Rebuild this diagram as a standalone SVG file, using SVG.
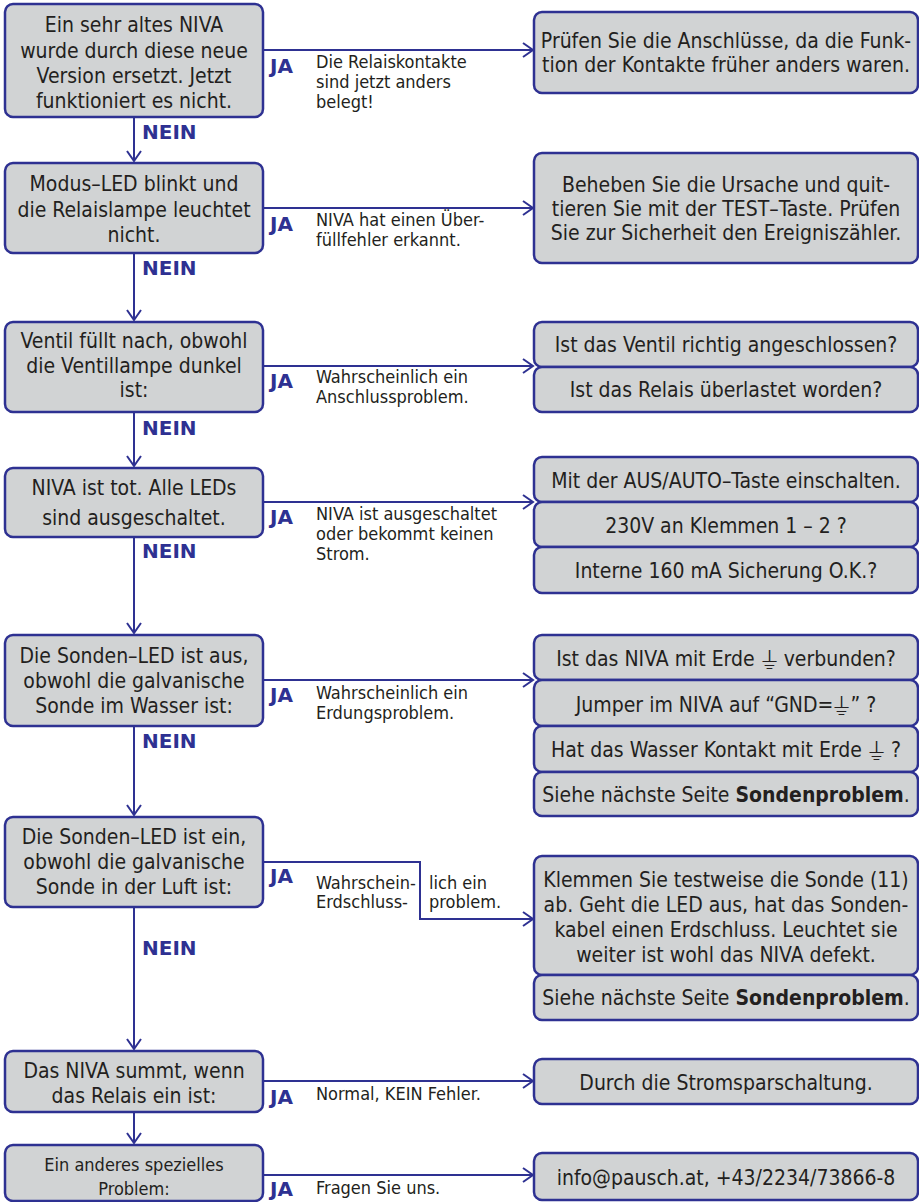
<svg xmlns="http://www.w3.org/2000/svg" width="919" height="1202" viewBox="0 0 919 1202">
<defs>
<style>
.box{fill:#d1d3d4;stroke:#2e3192;stroke-width:2.5}
.t{font-family:"DejaVu Sans Condensed","DejaVu Sans",sans-serif;font-size:21px;fill:#231f20;text-anchor:middle}
.s18{font-size:18px}
.lab{font-family:"DejaVu Sans Condensed","DejaVu Sans",sans-serif;font-size:18px;fill:#231f20}
.ja{font-family:"DejaVu Sans",sans-serif;font-weight:bold;font-size:20px;fill:#2e3192}
.c{stroke:#2e3192;stroke-width:2;fill:none}
.gnd{font-size:24px;baseline-shift:-3px}
</style>
<marker id="ah" markerWidth="13" markerHeight="17" refX="11" refY="8" orient="auto" markerUnits="userSpaceOnUse">
<path d="M1,1 L11,8 L1,15" fill="none" stroke="#2e3192" stroke-width="2"/>
</marker>
</defs>

<g id="connectors">
<path class="c" d="M263,50 H533" marker-end="url(#ah)"/>
<path class="c" d="M134,117 V161" marker-end="url(#ah)"/>
<path class="c" d="M263,208 H533" marker-end="url(#ah)"/>
<path class="c" d="M134,253 V320" marker-end="url(#ah)"/>
<path class="c" d="M263,366 H533" marker-end="url(#ah)"/>
<path class="c" d="M134,412 V466" marker-end="url(#ah)"/>
<path class="c" d="M263,502 H533" marker-end="url(#ah)"/>
<path class="c" d="M134,537 V633" marker-end="url(#ah)"/>
<path class="c" d="M263,680 H533" marker-end="url(#ah)"/>
<path class="c" d="M134,726 V815" marker-end="url(#ah)"/>
<path class="c" d="M263,862 H420 V919 H533" marker-end="url(#ah)"/>
<path class="c" d="M134,907 V1049" marker-end="url(#ah)"/>
<path class="c" d="M263,1081 H533" marker-end="url(#ah)"/>
<path class="c" d="M134,1112 V1143" marker-end="url(#ah)"/>
<path class="c" d="M263,1175 H533" marker-end="url(#ah)"/>
</g>

<g id="edge-labels">
<text class="ja" x="270" y="73">JA</text>
<text class="lab" x="316" y="68">Die Relaiskontakte</text>
<text class="lab" x="316" y="88">sind jetzt anders</text>
<text class="lab" x="316" y="108">belegt!</text>
<text class="ja" x="142" y="139">NEIN</text>

<text class="ja" x="270" y="231">JA</text>
<text class="lab" x="316" y="226">NIVA hat einen Über-</text>
<text class="lab" x="316" y="246">füllfehler erkannt.</text>
<text class="ja" x="142" y="275">NEIN</text>

<text class="ja" x="270" y="388">JA</text>
<text class="lab" x="316" y="383">Wahrscheinlich ein</text>
<text class="lab" x="316" y="403">Anschlussproblem.</text>
<text class="ja" x="142" y="435">NEIN</text>

<text class="ja" x="270" y="524">JA</text>
<text class="lab" x="316" y="520">NIVA ist ausgeschaltet</text>
<text class="lab" x="316" y="540">oder bekommt keinen</text>
<text class="lab" x="316" y="560">Strom.</text>
<text class="ja" x="142" y="558">NEIN</text>

<text class="ja" x="270" y="702">JA</text>
<text class="lab" x="316" y="699">Wahrscheinlich ein</text>
<text class="lab" x="316" y="719">Erdungsproblem.</text>
<text class="ja" x="142" y="748">NEIN</text>

<text class="ja" x="270" y="883">JA</text>
<text class="lab" x="316" y="889">Wahrschein-</text>
<text class="lab" x="316" y="908">Erdschluss-</text>
<text class="lab" x="429" y="889">lich ein</text>
<text class="lab" x="429" y="908">problem.</text>
<text class="ja" x="142" y="955">NEIN</text>

<text class="ja" x="270" y="1104">JA</text>
<text class="lab" x="316" y="1100">Normal, KEIN Fehler.</text>

<text class="ja" x="270" y="1196">JA</text>
<text class="lab" x="316" y="1194">Fragen Sie uns.</text>
</g>

<g id="q1">
<rect class="box" x="5" y="4" width="258" height="113" rx="8"/>
<text class="t" x="134" y="32">Ein sehr altes NIVA</text>
<text class="t" x="134" y="57.5">wurde durch diese neue</text>
<text class="t" x="134" y="83">Version ersetzt. Jetzt</text>
<text class="t" x="134" y="108">funktioniert es nicht.</text>
</g>
<g id="a1">
<rect class="box" x="534" y="12" width="384" height="81" rx="8"/>
<text class="t" x="726" y="48">Prüfen Sie die Anschlüsse, da die Funk-</text>
<text class="t" x="726" y="72">tion der Kontakte früher anders waren.</text>
</g>

<g id="q2">
<rect class="box" x="5" y="163" width="258" height="90" rx="8"/>
<text class="t" x="134" y="191">Modus–LED blinkt und</text>
<text class="t" x="134" y="216.5">die Relaislampe leuchtet</text>
<text class="t" x="134" y="242">nicht.</text>
</g>
<g id="a2">
<rect class="box" x="534" y="153" width="384" height="110" rx="8"/>
<text class="t" x="726" y="192">Beheben Sie die Ursache und quit-</text>
<text class="t" x="726" y="216">tieren Sie mit der TEST–Taste. Prüfen</text>
<text class="t" x="726" y="240">Sie zur Sicherheit den Ereigniszähler.</text>
</g>

<g id="q3">
<rect class="box" x="5" y="322" width="258" height="90" rx="8"/>
<text class="t" x="134" y="348">Ventil füllt nach, obwohl</text>
<text class="t" x="134" y="372.5">die Ventillampe dunkel</text>
<text class="t" x="134" y="397">ist:</text>
</g>
<g id="a3a">
<rect class="box" x="534" y="322" width="384" height="45" rx="8"/>
<text class="t" x="726" y="352">Ist das Ventil richtig angeschlossen?</text>
</g>
<g id="a3b">
<rect class="box" x="534" y="367" width="384" height="45" rx="8"/>
<text class="t" x="726" y="397">Ist das Relais überlastet worden?</text>
</g>

<g id="q4">
<rect class="box" x="5" y="468" width="258" height="69" rx="8"/>
<text class="t" x="134" y="495">NIVA ist tot. Alle LEDs</text>
<text class="t" x="134" y="525">sind ausgeschaltet.</text>
</g>
<g id="a4a">
<rect class="box" x="534" y="457" width="384" height="45" rx="8"/>
<text class="t" x="726" y="488">Mit der AUS/AUTO–Taste einschalten.</text>
</g>
<g id="a4b">
<rect class="box" x="534" y="502" width="384" height="45" rx="8"/>
<text class="t" x="726" y="533">230V an Klemmen 1 – 2 ?</text>
</g>
<g id="a4c">
<rect class="box" x="534" y="547" width="384" height="46" rx="8"/>
<text class="t" x="726" y="578">Interne 160 mA Sicherung O.K.?</text>
</g>

<g id="q5">
<rect class="box" x="5" y="635" width="258" height="91" rx="8"/>
<text class="t" x="134" y="663">Die Sonden–LED ist aus,</text>
<text class="t" x="134" y="687.5">obwohl die galvanische</text>
<text class="t" x="134" y="713">Sonde im Wasser ist:</text>
</g>
<g id="a5a">
<rect class="box" x="534" y="635" width="384" height="45" rx="8"/>
<text class="t" x="726" y="666">Ist das NIVA mit Erde <tspan class="gnd">⏚</tspan> verbunden?</text>
</g>
<g id="a5b">
<rect class="box" x="534" y="680" width="384" height="46" rx="8"/>
<text class="t" x="726" y="712">Jumper im NIVA auf “GND=<tspan class="gnd">⏚</tspan>” ?</text>
</g>
<g id="a5c">
<rect class="box" x="534" y="726" width="384" height="46" rx="8"/>
<text class="t" x="726" y="757">Hat das Wasser Kontakt mit Erde <tspan class="gnd">⏚</tspan> ?</text>
</g>
<g id="a5d">
<rect class="box" x="534" y="772" width="384" height="44" rx="8"/>
<text class="t" x="726" y="802">Siehe nächste Seite <tspan font-weight="bold">Sondenproblem</tspan>.</text>
</g>

<g id="q6">
<rect class="box" x="5" y="817" width="258" height="90" rx="8"/>
<text class="t" x="134" y="844">Die Sonden–LED ist ein,</text>
<text class="t" x="134" y="869">obwohl die galvanische</text>
<text class="t" x="134" y="894">Sonde in der Luft ist:</text>
</g>
<g id="a6a">
<rect class="box" x="534" y="856" width="384" height="119" rx="8"/>
<text class="t" x="726" y="887">Klemmen Sie testweise die Sonde (11)</text>
<text class="t" x="726" y="912">ab. Geht die LED aus, hat das Sonden-</text>
<text class="t" x="726" y="937">kabel einen Erdschluss. Leuchtet sie</text>
<text class="t" x="726" y="962">weiter ist wohl das NIVA defekt.</text>
</g>
<g id="a6b">
<rect class="box" x="534" y="975" width="384" height="45" rx="8"/>
<text class="t" x="726" y="1005">Siehe nächste Seite <tspan font-weight="bold">Sondenproblem</tspan>.</text>
</g>

<g id="q7">
<rect class="box" x="5" y="1051" width="258" height="61" rx="8"/>
<text class="t" x="134" y="1078">Das NIVA summt, wenn</text>
<text class="t" x="134" y="1103">das Relais ein ist:</text>
</g>
<g id="a7">
<rect class="box" x="534" y="1059" width="384" height="45" rx="8"/>
<text class="t" x="726" y="1090">Durch die Stromsparschaltung.</text>
</g>

<g id="q8">
<rect class="box" x="5" y="1145" width="258" height="56" rx="8"/>
<text class="t s18" x="134" y="1171">Ein anderes spezielles</text>
<text class="t s18" x="134" y="1195">Problem:</text>
</g>
<g id="a8">
<rect class="box" x="534" y="1153" width="384" height="47" rx="8"/>
<text class="t" x="726" y="1185">info@pausch.at, +43/2234/73866-8</text>
</g>
</svg>
